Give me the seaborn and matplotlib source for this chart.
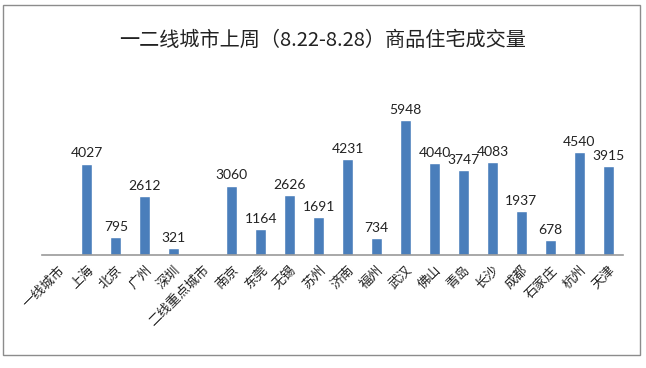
import numpy as np
import pandas as pd
import matplotlib
matplotlib.use("Agg")
import matplotlib.pyplot as plt
import seaborn as sns
from matplotlib.patches import Rectangle

# chart data
cities = ['一线城市', '上海', '北京', '广州', '深圳', '二线重点城市', '南京', '东莞', '无锡',
          '苏州', '济南', '福州', '武汉', '佛山', '青岛', '长沙', '成都', '石家庄', '杭州', '天津']
volumes = [np.nan, 4027, 795, 2612, 321, np.nan, 3060, 1164, 2626,
           1691, 4231, 734, 5948, 4040, 3747, 4083, 1937, 678, 4540, 3915]
title = '一二线城市上周（8.22-8.28）商品住宅成交量'

df = pd.DataFrame({'city': cities, 'volume': volumes})

sns.set_style('white')
plt.rcParams['font.family'] = ['Noto Sans CJK SC', 'DejaVu Sans']

fig = plt.figure(figsize=(6.46, 3.68), dpi=100)
ax = fig.add_axes([0.065, 0.307, 0.899, 0.432])

sns.barplot(data=df, x='city', y='volume', order=cities, color='#4a7ebb',
            width=0.38, saturation=1, ax=ax)

# value labels above bars (NaN categories have no patch)
for bar in ax.patches:
    h = bar.get_height()
    if np.isnan(h) or h == 0:
        continue
    ax.text(bar.get_x() + bar.get_width() / 2, h + 180, f'{int(round(h))}',
            ha='center', va='bottom', fontsize=10, family=['Lato', 'DejaVu Sans'],
            color='#222222')

ax.set_xlim(-0.55, 19.5)
ax.set_ylim(0, 7000)
ax.set_xlabel('')
ax.set_ylabel('')
ax.set_yticks([])
ax.set_xticks(range(len(cities)))
ax.set_xticklabels(cities, rotation=45, ha='right', rotation_mode='anchor',
                   fontsize=9.5, color='#222222')
ax.tick_params(axis='x', length=0, pad=6)
for side in ['top', 'right', 'left']:
    ax.spines[side].set_visible(False)
ax.spines['bottom'].set_color('#9a9a9a')
ax.spines['bottom'].set_linewidth(1.2)

fig.text(0.5, 0.89, title, ha='center', va='center', fontsize=14.5, color='#222222')

# outer chart frame
fig.patches.append(Rectangle((0.005, 0.035), 0.986, 0.951, transform=fig.transFigure,
                             fill=False, edgecolor='#8c8c8c', linewidth=1.0))

fig.savefig('out.png', dpi=100)
